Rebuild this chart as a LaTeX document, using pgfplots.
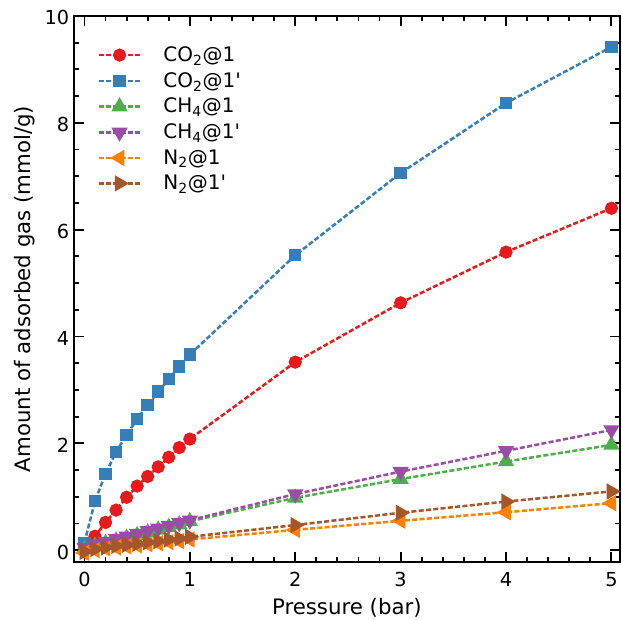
\documentclass[border=0pt]{standalone}
\usepackage{fontspec}
\setmainfont{DejaVu Sans}
\newfontfamily\dvplain{DejaVu Sans}
\usepackage{pgfplots}
\pgfplotsset{compat=1.18}
\definecolor{cred}{HTML}{E41A1C}
\definecolor{cblue}{HTML}{377EB8}
\definecolor{cgreen}{HTML}{4DAF4A}
\definecolor{cpurple}{HTML}{984EA3}
\definecolor{corange}{HTML}{FF7F00}
\definecolor{cbrown}{HTML}{A65628}
\newcommand{\pr}{{\dvplain '}}
\pgfplotsset{ser/.style={line width=1.9pt, dash pattern=on 3.8pt off 1.7pt}}
\begin{document}
\begin{tikzpicture}
\begin{axis}[
  scale only axis, width=410pt, height=410pt,
  xmin=-0.1, xmax=5.08, ymin=-0.22, ymax=10,
  xtick={0,1,2,3,4,5}, ytick={0,2,4,6,8,10},
  minor x tick num=4, minor y tick num=3,
  tick align=inside, major tick length=7.5pt, minor tick length=3.8pt,
  every tick/.style={black, line width=1.4pt},
  axis line style={line width=1.6pt},
  tick label style={font=\fontsize{14.5}{16}\selectfont},
  xticklabel style={yshift=-4pt},
  yticklabel style={yshift=-1.5pt},
  /pgf/number format/assume math mode=true,
  xlabel={Pressure (bar)}, ylabel={Amount of adsorbed gas (mmol/g)},
  label style={font=\fontsize{16}{18}\selectfont, inner sep=0pt},
  xlabel style={at={(axis description cs:0.5,-0.0841)}, anchor=center},
  ylabel style={at={(axis description cs:-0.0896,0.5)}, anchor=center},
  legend style={draw=none, fill=none, at={(0.035,0.954)}, anchor=north west,
    font=\fontsize{15}{17}\selectfont, row sep=2.7pt,
    /tikz/every odd column/.append style={column sep=0.5cm}},
  legend cell align=left,
  legend image code/.code={\draw[mark repeat=2,mark phase=2] plot coordinates {(0cm,0cm) (0.555cm,0cm) (1.11cm,0cm)};},
  clip=false,
]
\addplot[cred, ser, mark=*, mark size=4pt, mark options={solid}] coordinates {
(0,0.04) (0.1,0.26) (0.2,0.52) (0.3,0.75) (0.4,0.99) (0.5,1.2) (0.6,1.38) (0.7,1.56) (0.8,1.74) (0.9,1.92) (1.0,2.08) (2,3.52) (3,4.63) (4,5.58) (5,6.4)};
\addlegendentry{CO\textsubscript{2}@1}
\addplot[cblue, ser, mark=square*, mark size=3.7pt, mark options={solid}] coordinates {
(0,0.14) (0.1,0.92) (0.2,1.43) (0.3,1.84) (0.4,2.16) (0.5,2.45) (0.6,2.72) (0.7,2.97) (0.8,3.2) (0.9,3.44) (1.0,3.66) (2,5.52) (3,7.06) (4,8.37) (5,9.42)};
\addlegendentry{CO\textsubscript{2}@1\pr}
\addplot[cgreen, ser, mark=triangle*, mark size=5.2pt, mark options={solid}] coordinates {
(0,0.02) (0.1,0.08) (0.2,0.13) (0.3,0.18) (0.4,0.23) (0.5,0.28) (0.6,0.33) (0.7,0.38) (0.8,0.43) (0.9,0.48) (1.0,0.54) (2,0.98) (3,1.33) (4,1.66) (5,1.97)};
\addlegendentry{CH\textsubscript{4}@1}
\addplot[cpurple, ser, mark=triangle*, mark size=5.2pt, mark options={solid, rotate=180}] coordinates {
(0,0.05) (0.1,0.11) (0.2,0.16) (0.3,0.21) (0.4,0.26) (0.5,0.31) (0.6,0.36) (0.7,0.41) (0.8,0.46) (0.9,0.51) (1.0,0.56) (2,1.05) (3,1.47) (4,1.86) (5,2.25)};
\addlegendentry{CH\textsubscript{4}@1\pr}
\addplot[corange, ser, mark=triangle*, mark size=5.2pt, mark options={solid, rotate=90}] coordinates {
(0,-0.05) (0.1,0.0) (0.2,0.03) (0.3,0.05) (0.4,0.07) (0.5,0.09) (0.6,0.11) (0.7,0.13) (0.8,0.15) (0.9,0.17) (1.0,0.2) (2,0.38) (3,0.55) (4,0.71) (5,0.88)};
\addlegendentry{N\textsubscript{2}@1}
\addplot[cbrown, ser, mark=triangle*, mark size=5.2pt, mark options={solid, rotate=-90}] coordinates {
(0,-0.03) (0.1,0.02) (0.2,0.05) (0.3,0.08) (0.4,0.1) (0.5,0.12) (0.6,0.15) (0.7,0.17) (0.8,0.2) (0.9,0.22) (1.0,0.25) (2,0.47) (3,0.7) (4,0.91) (5,1.1)};
\addlegendentry{N\textsubscript{2}@1\pr}
\end{axis}
\path ([xshift=-55.5pt]current axis.west) ([yshift=12pt]current axis.north) ([yshift=-43.5pt]current axis.south);
\end{tikzpicture}
\end{document}
